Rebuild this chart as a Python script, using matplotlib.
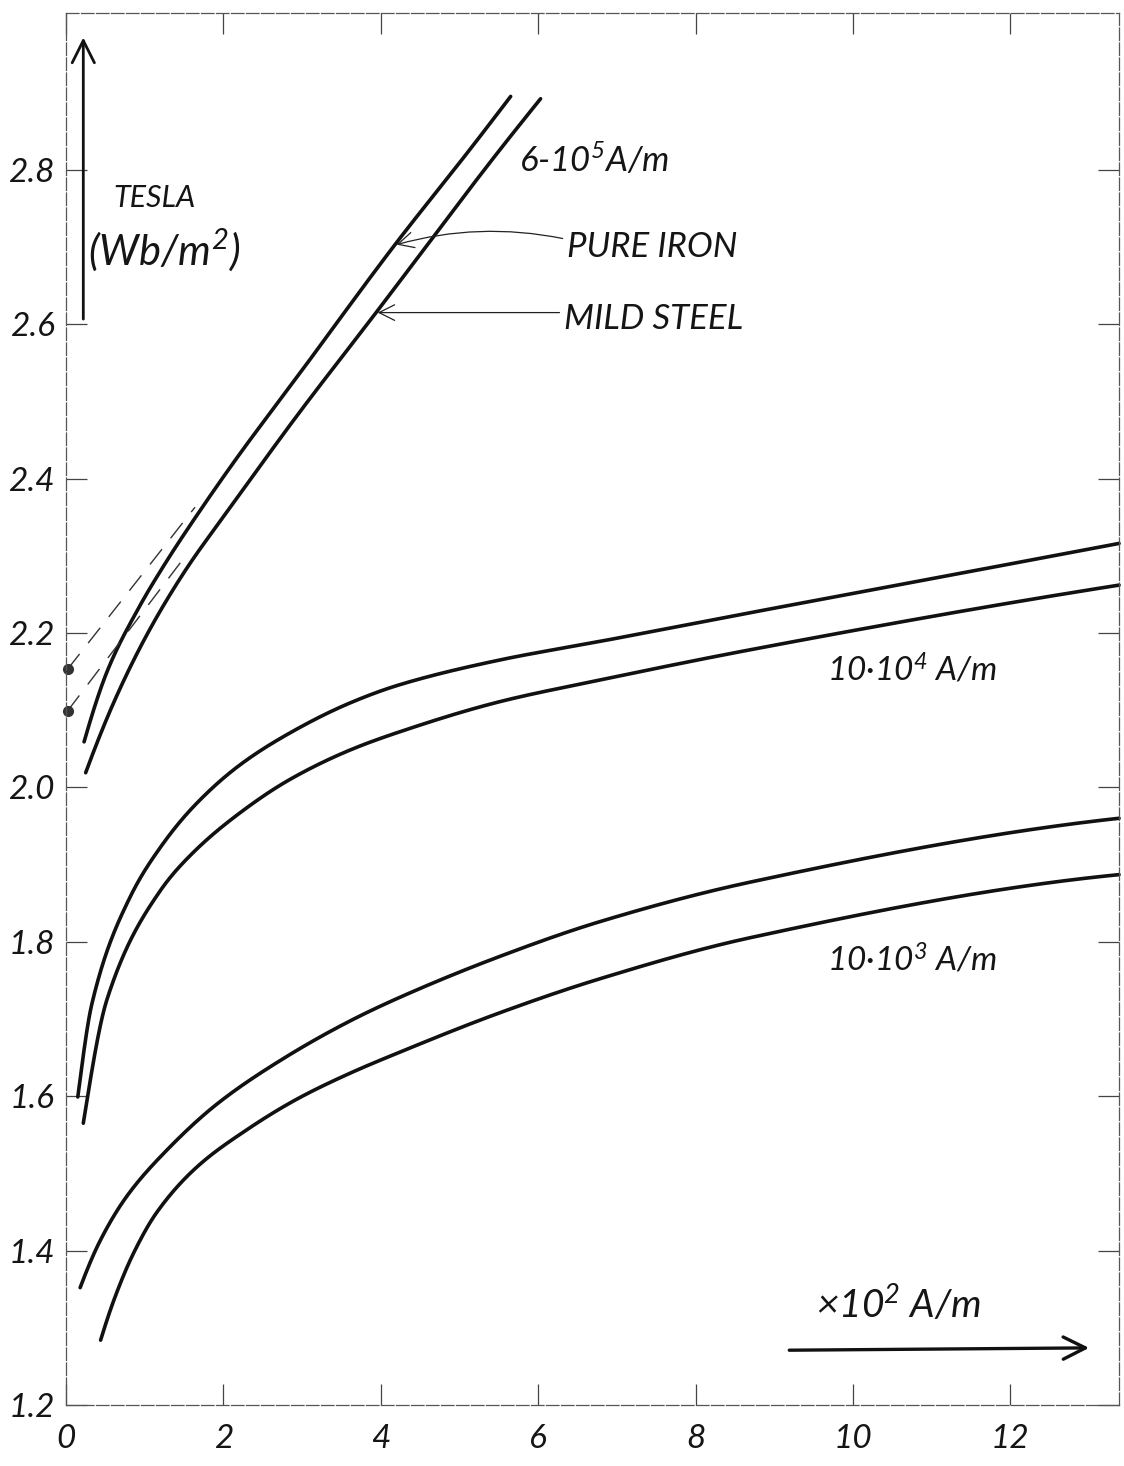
import matplotlib
matplotlib.use("Agg")
import matplotlib.pyplot as plt
import numpy as np

# B-H curves (x in 10^2 A/m, y in tesla)
steep_iron_x = [0.23, 0.53, 0.91, 1.26, 1.68, 2.18, 2.91, 4.18, 5.13, 5.65]
steep_iron_y = [2.059, 2.152, 2.230, 2.290, 2.355, 2.428, 2.528, 2.703, 2.826, 2.895]
steep_steel_x = [0.25, 0.62, 1.04, 1.51, 2.09, 2.91, 3.94, 5.46, 6.03]
steep_steel_y = [2.019, 2.113, 2.200, 2.280, 2.363, 2.478, 2.615, 2.819, 2.892]

mid_iron_x = [0.15, 0.33, 0.81, 1.19, 1.61, 2.17, 2.75, 3.60, 4.24, 5.51, 6.78, 8.68, 10.93, 13.38]
mid_iron_y = [1.599, 1.720, 1.857, 1.921, 1.974, 2.026, 2.065, 2.109, 2.133, 2.165, 2.189, 2.226, 2.269, 2.316]
mid_steel_x = [0.22, 0.52, 1.19, 1.61, 2.21, 2.84, 3.60, 4.24, 5.51, 6.78, 8.68, 13.38]
mid_steel_y = [1.565, 1.725, 1.865, 1.915, 1.967, 2.010, 2.048, 2.072, 2.111, 2.139, 2.178, 2.262]

low_iron_x = [0.18, 0.43, 0.77, 1.28, 1.92, 2.75, 3.60, 4.24, 5.51, 6.78, 8.68, 13.38]
low_iron_y = [1.352, 1.412, 1.470, 1.530, 1.590, 1.648, 1.697, 1.728, 1.781, 1.826, 1.877, 1.960]
low_steel_x = [0.44, 0.62, 0.86, 1.15, 1.66, 2.29, 2.93, 3.57, 4.24, 5.51, 6.78, 8.68, 13.38]
low_steel_y = [1.284, 1.339, 1.397, 1.449, 1.508, 1.556, 1.596, 1.628, 1.657, 1.708, 1.752, 1.805, 1.887]

# dashed extrapolations of the steep lines back to H = 0
extrap_iron_x = [0.02, 1.64]
extrap_iron_y = [2.153, 2.363]
extrap_steel_x = [0.02, 1.55]
extrap_steel_y = [2.099, 2.304]

xticks = [0, 2, 4, 6, 8, 10, 12]
yticks = [1.2, 1.4, 1.6, 1.8, 2.0, 2.2, 2.4, 2.6, 2.8]
ytick_labels = ["1.2", "1.4", "1.6", "1.8", "2.0", "2.2", "2.4", "2.6", "2.8"]

plt.rcParams['font.family'] = ['Lato', 'DejaVu Sans']
plt.rcParams['mathtext.fontset'] = 'custom'
plt.rcParams['mathtext.rm'] = 'Lato:italic'
plt.rcParams['mathtext.it'] = 'Lato:italic'
plt.rcParams['mathtext.default'] = 'rm'

INK = '#151515'
FONT = dict(fontstyle='italic', fontweight='normal', color=INK)


def pchip(x, y, n=2000):
    # shape preserving cubic through the read points, only for drawing
    x = np.asarray(x, float)
    y = np.asarray(y, float)
    h = np.diff(x)
    d = np.diff(y) / h
    m = np.zeros_like(x)
    for k in range(1, len(x) - 1):
        if d[k - 1] * d[k] > 0:
            w1 = 2 * h[k] + h[k - 1]
            w2 = h[k] + 2 * h[k - 1]
            m[k] = (w1 + w2) / (w1 / d[k - 1] + w2 / d[k])

    def end(h0, h1, d0, d1):
        s = ((2 * h0 + h1) * d0 - h0 * d1) / (h0 + h1)
        if np.sign(s) != np.sign(d0):
            s = 0.0
        elif np.sign(d0) != np.sign(d1) and abs(s) > abs(3 * d0):
            s = 3 * d0
        return s

    m[0] = end(h[0], h[1], d[0], d[1])
    m[-1] = end(h[-1], h[-2], d[-1], d[-2])
    xs = np.linspace(x[0], x[-1], n)
    i = np.clip(np.searchsorted(x, xs) - 1, 0, len(h) - 1)
    t = (xs - x[i]) / h[i]
    ys = ((2 * t**3 - 3 * t**2 + 1) * y[i] + (t**3 - 2 * t**2 + t) * h[i] * m[i]
          + (-2 * t**3 + 3 * t**2) * y[i + 1] + (t**3 - t**2) * h[i] * m[i + 1])
    return xs, ys


fig = plt.figure(figsize=(11.24, 14.66), dpi=100)
ax = fig.add_axes([0.0587, 0.0416, 0.9369, 0.9495])
ax.set_xlim(0, 13.38)
ax.set_ylim(1.2, 3.003)

curves = [(steep_iron_x, steep_iron_y), (steep_steel_x, steep_steel_y),
          (mid_iron_x, mid_iron_y), (mid_steel_x, mid_steel_y),
          (low_iron_x, low_iron_y), (low_steel_x, low_steel_y)]
for cx, cy in curves:
    sx, sy = pchip(cx, cy)
    ax.plot(sx, sy, color='#111111', lw=2.6, solid_capstyle='round', clip_on=False)

ax.plot(extrap_iron_x, extrap_iron_y, color='#333333', lw=1.0, ls=(0, (14, 10)))
ax.plot(extrap_steel_x, extrap_steel_y, color='#333333', lw=1.0, ls=(0, (14, 10)))
ax.plot([extrap_iron_x[0], extrap_steel_x[0]], [extrap_iron_y[0], extrap_steel_y[0]], 'o',
        color='#333333', ms=7, clip_on=False)

# frame and ticks
for sp in ax.spines.values():
    sp.set_linestyle((0, (10, 2)))
    sp.set_linewidth(0.9)
    sp.set_color('#555555')
ax.set_xticks(xticks)
ax.set_yticks(yticks)
ax.set_xticklabels([str(v) for v in xticks])
ax.set_yticklabels(ytick_labels)
ax.tick_params(direction='in', length=15, width=0.9, color='#444444',
               top=True, right=True, labelsize=24, labelcolor=INK)
ax.tick_params(axis='x', pad=14)
ax.tick_params(axis='y', pad=8)
for lab in ax.get_xticklabels() + ax.get_yticklabels():
    lab.set_fontstyle('italic')

# y unit with its arrow
ax.annotate('', xy=(0.22, 2.975), xytext=(0.22, 2.603),
            arrowprops=dict(arrowstyle='->', lw=2.0, color='#111111', mutation_scale=40))
ax.text(0.60, 2.763, 'TESLA', fontsize=22, va='center', ha='left', **FONT)
ax.text(0.28, 2.696, '(Wb/m$^2$)', fontsize=30, va='center', ha='left', **FONT)

# curve labels
ax.text(5.76, 2.813, '6-10$^5$A/m', fontsize=25, va='center', ha='left', **FONT)
ax.text(6.37, 2.700, 'PURE IRON', fontsize=25, va='center', ha='left', **FONT)
ax.text(6.33, 2.607, 'MILD STEEL', fontsize=25, va='center', ha='left', **FONT)
ax.text(9.67, 2.152, '10·10$^4$ A/m', fontsize=24, va='center', ha='left', **FONT)
ax.text(9.67, 1.776, '10·10$^3$ A/m', fontsize=24, va='center', ha='left', **FONT)

ax.annotate('', xy=(4.20, 2.703), xytext=(6.31, 2.711),
            arrowprops=dict(arrowstyle='->', lw=0.9, color='#222222', mutation_scale=28,
                            connectionstyle='arc3,rad=0.12', shrinkA=0, shrinkB=0))
ax.annotate('', xy=(3.96, 2.615), xytext=(6.27, 2.615),
            arrowprops=dict(arrowstyle='->', lw=0.9, color='#222222', mutation_scale=28,
                            shrinkA=0, shrinkB=0))

# x unit with its arrow
ax.text(9.53, 1.330, '×10$^2$ A/m', fontsize=28, va='center', ha='left', **FONT)
ax.annotate('', xy=(13.0, 1.274), xytext=(9.19, 1.271),
            arrowprops=dict(arrowstyle='->', lw=2.4, color='#111111', mutation_scale=40,
                            shrinkA=0, shrinkB=0))

fig.savefig('out.png', dpi=100, facecolor='white')
